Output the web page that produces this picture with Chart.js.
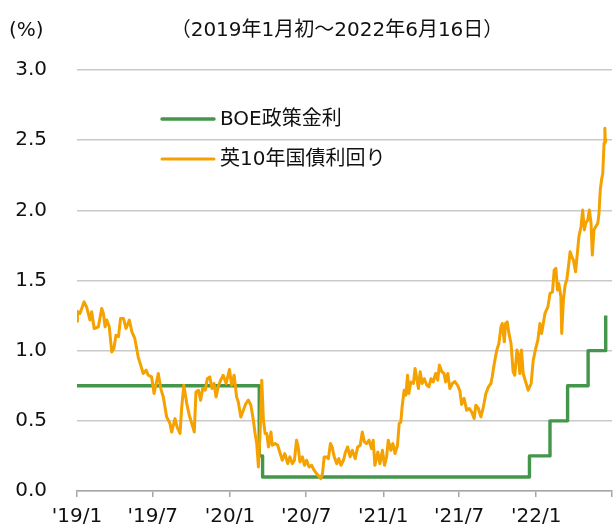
<!DOCTYPE html>
<html>
<head>
<meta charset="utf-8">
<script src="https://cdn.jsdelivr.net/npm/chart.js@4/dist/chart.umd.min.js"></script>
<style>
html,body{margin:0;padding:0;background:#fff;}
#wrap{width:613px;height:528px;position:relative;}
</style>
</head>
<body>
<div id="wrap"><canvas id="c" width="613" height="528"></canvas></div>
<script>
// ---- data ----
const titleText = '（2019年1月初～2022年6月16日）';
const unitText = '(%)';
const originDate = '2019-01-01';
const axisEndDate = '2022-07-01';
const tickDates = ['2019-01-01','2019-07-01','2020-01-01','2020-07-01','2021-01-01','2021-07-01','2022-01-01','2022-07-01'];
const tickLabels = ["'19/1","'19/7","'20/1","'20/7","'21/1","'21/7","'22/1",""];
const yTicks = [0, 0.5, 1.0, 1.5, 2.0, 2.5, 3.0];

const rateLabel = 'BOE政策金利';
const rateDates = ['2019-01-01','2020-03-11','2020-03-19','2021-12-16','2022-02-03','2022-03-17','2022-05-05','2022-06-16'];
const rateValues = [0.75, 0.25, 0.1, 0.25, 0.5, 0.75, 1.0, 1.25];

const yieldLabel = '英10年国債利回り';
// days since 2019-01-01
const yieldDays = [0,1,7,17,23,31,35,41,51,59,63,67,71,77,83,88,93,99,104,111,117,125,131,138,146,152,158,165,170,178,184,189,194,200,206,214,222,226,234,239,246,250,255,262,268,274,280,284,290,295,300,306,311,317,322,327,332,337,343,349,356,364,369,375,381,385,391,397,403,409,415,421,425,429,433,437,441,445,449,453,457,463,466,473,479,485,490,496,503,508,514,519,524,528,532,538,543,548,554,560,566,572,578,582,586,590,596,600,605,609,614,620,625,630,636,641,646,652,657,664,670,676,681,686,691,697,703,707,711,718,723,729,734,739,743,749,754,759,765,769,773,776,781,785,789,792,797,803,807,811,815,819,824,829,835,840,845,850,856,861,865,871,876,880,885,890,896,902,909,914,918,924,930,936,942,948,952,958,964,970,976,982,988,991,996,1002,1007,1012,1015,1020,1023,1027,1031,1036,1041,1045,1050,1053,1057,1061,1065,1071,1077,1084,1089,1095,1100,1105,1109,1113,1117,1124,1129,1135,1139,1143,1147,1150,1155,1157,1161,1165,1169,1173,1177,1181,1185,1190,1195,1198,1203,1207,1211,1214,1219,1223,1227,1230,1234,1238,1243,1246,1249,1252,1255,1258,1260,1261,1262];
const yieldValues = [1.21,1.28,1.265,1.348,1.31,1.218,1.277,1.158,1.17,1.30,1.265,1.17,1.218,1.17,0.99,1.016,1.11,1.10,1.23,1.23,1.158,1.218,1.134,1.087,0.956,0.897,0.837,0.861,0.825,0.813,0.695,0.766,0.837,0.73,0.67,0.528,0.48,0.42,0.516,0.456,0.41,0.60,0.754,0.623,0.54,0.48,0.42,0.706,0.718,0.647,0.73,0.718,0.80,0.813,0.73,0.766,0.67,0.742,0.79,0.825,0.766,0.866,0.754,0.825,0.67,0.635,0.528,0.576,0.623,0.647,0.611,0.504,0.41,0.338,0.171,0.41,0.79,0.504,0.41,0.41,0.314,0.42,0.326,0.338,0.326,0.267,0.219,0.267,0.195,0.243,0.195,0.219,0.362,0.314,0.207,0.243,0.183,0.219,0.171,0.183,0.148,0.124,0.10,0.088,0.124,0.243,0.243,0.231,0.338,0.314,0.243,0.195,0.231,0.183,0.219,0.278,0.314,0.243,0.29,0.231,0.314,0.326,0.42,0.35,0.338,0.362,0.302,0.362,0.183,0.278,0.195,0.29,0.183,0.243,0.362,0.29,0.338,0.267,0.326,0.48,0.492,0.60,0.718,0.683,0.825,0.695,0.777,0.766,0.873,0.80,0.73,0.849,0.766,0.80,0.754,0.742,0.80,0.777,0.837,0.79,0.897,0.849,0.837,0.777,0.837,0.73,0.766,0.78,0.75,0.712,0.617,0.66,0.576,0.588,0.564,0.516,0.611,0.588,0.528,0.60,0.695,0.742,0.766,0.813,0.909,1.004,1.051,1.17,1.194,1.063,1.194,1.205,1.123,1.051,0.849,0.825,1.004,0.98,0.837,1.004,0.837,0.777,0.718,0.766,0.932,1.016,1.075,1.194,1.123,1.194,1.265,1.312,1.408,1.419,1.574,1.586,1.432,1.479,1.384,1.123,1.36,1.467,1.503,1.598,1.705,1.669,1.645,1.562,1.717,1.812,1.883,2.002,1.86,1.907,1.93,2.002,1.907,1.681,1.86,1.883,1.907,1.979,2.145,2.216,2.264,2.478,2.585,2.49,2.51];

// ---- helpers ----
const DAY = 86400000;
function toDays(s){ const [y,m,d]=s.split('-').map(Number); const [oy,om,od]=originDate.split('-').map(Number); return Math.round((Date.UTC(y,m-1,d)-Date.UTC(oy,om-1,od))/DAY); }
const tickDays = tickDates.map(toDays);
const FONT = "'DejaVu Sans','Noto Sans CJK JP',sans-serif";
const GREEN = '#43964A';
const ORANGE = '#F5A100';
const TEXT = '#111111';

const yieldData = yieldDays.map((d,i)=>({x:d,y:yieldValues[i]}));
const rateData = rateDates.map((s,i)=>({x:toDays(s),y:rateValues[i]}));

const decor = {
  id:'decor',
  afterDraw(chart){
    const ctx = chart.ctx;
    ctx.save();
    ctx.fillStyle = TEXT;
    ctx.font = '20px ' + FONT;
    ctx.textBaseline = 'middle';
    ctx.textAlign = 'left';
    ctx.fillText(unitText, 9, 31);
    ctx.textAlign = 'center';
    ctx.fillText(titleText, 337, 31);
    // legend
    const items = [chart.data.datasets[1], chart.data.datasets[0]];
    items.forEach((ds,i)=>{
      const y = 119 + i*40;
      ctx.strokeStyle = ds.borderColor;
      ctx.lineWidth = ds.borderWidth;
      ctx.lineCap = 'round';
      ctx.beginPath(); ctx.moveTo(162,y); ctx.lineTo(214,y); ctx.stroke();
      ctx.fillStyle = TEXT;
      ctx.textAlign = 'left';
      ctx.fillText(ds.label, 220, y+1);
    });
    ctx.restore();
  }
};

new Chart(document.getElementById('c'), {
  type:'line',
  data:{
    datasets:[
      {label:yieldLabel, data:yieldData, borderColor:ORANGE, backgroundColor:ORANGE, borderWidth:3, pointRadius:0, tension:0, order:0, borderJoinStyle:'round'},
      {label:rateLabel, data:rateData, borderColor:GREEN, backgroundColor:GREEN, borderWidth:3.4, pointRadius:0, stepped:'before', order:1, borderJoinStyle:'round'}
    ]
  },
  options:{
    responsive:false,
    animation:false,
    layout:{padding:{top:70,right:1,left:0,bottom:0}},
    plugins:{legend:{display:false},tooltip:{enabled:false},title:{display:false}},
    scales:{
      x:{
        type:'linear',
        min:0, max:toDays(axisEndDate),
        afterBuildTicks(s){ s.ticks = tickDays.map(v=>({value:v})); },
        afterFit(s){ s.height = 37; s.paddingLeft = 0; s.paddingRight = 0; },
        ticks:{ autoSkip:false, maxRotation:0, padding:8, color:TEXT, font:{family:FONT,size:20},
          callback:(v,i)=>tickLabels[i] },
        grid:{ display:true, drawOnChartArea:false, drawTicks:true, tickLength:6, color:'#a6a6a6', lineWidth:1.5 },
        border:{ display:true, color:'#a6a6a6', width:1.5 }
      },
      y:{
        min:0, max:3,
        afterBuildTicks(s){ s.ticks = yTicks.map(v=>({value:v})); },
        afterFit(s){ s.width = 77; s.paddingTop = 0; s.paddingBottom = 0; },
        ticks:{ padding:30, color:TEXT, font:{family:FONT,size:20}, callback:v=>v.toFixed(1) },
        grid:{ color:'#c9c9c9', lineWidth:1.5, drawTicks:false },
        border:{ display:false }
      }
    }
  },
  plugins:[decor]
});
</script>
</body>
</html>
